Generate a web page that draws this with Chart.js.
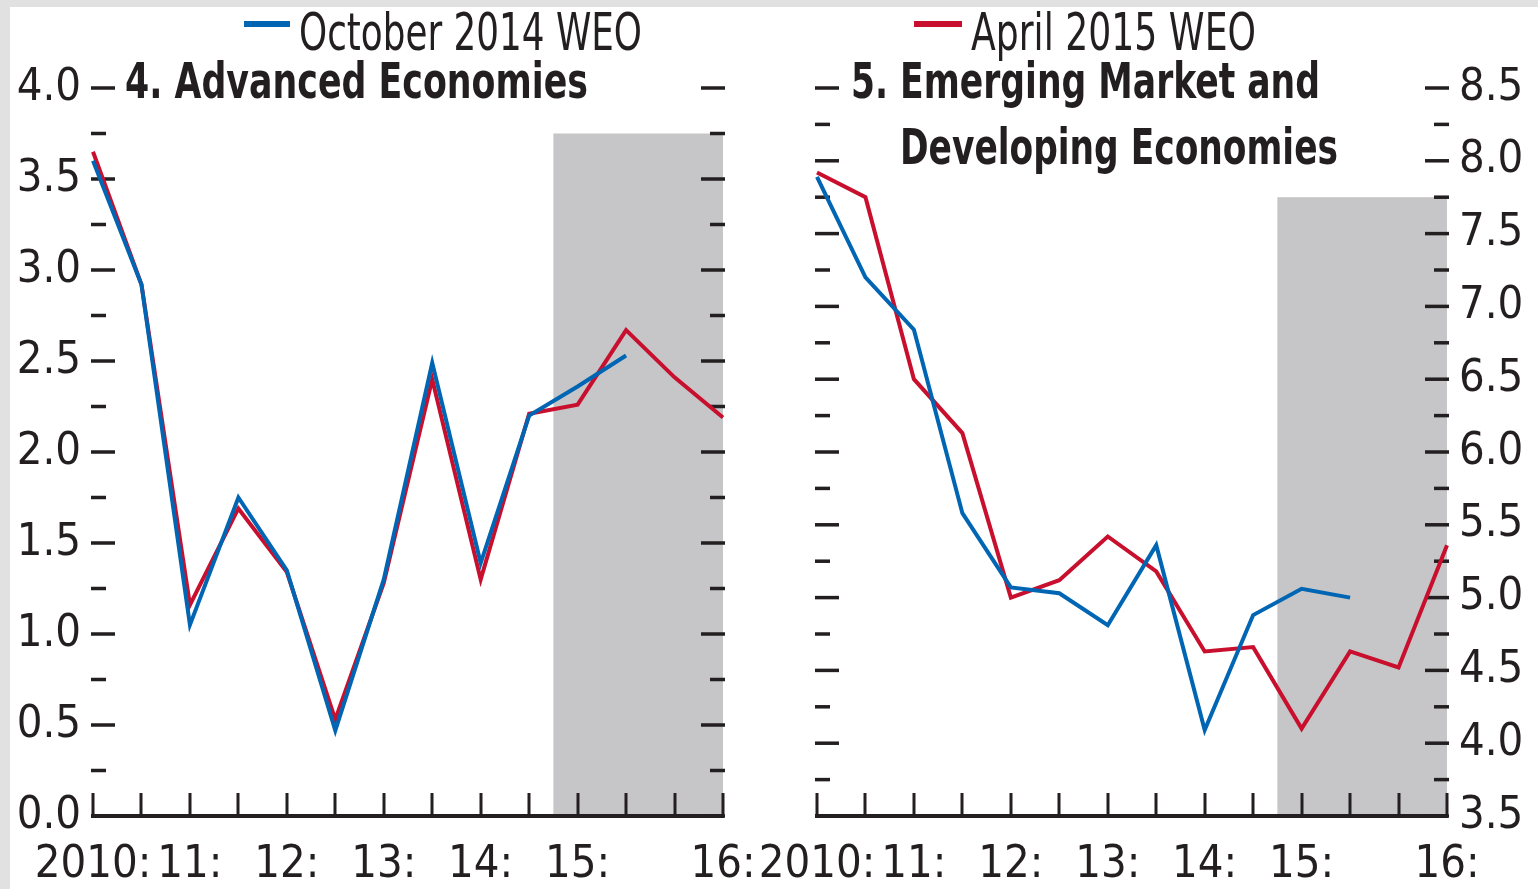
<!DOCTYPE html>
<html>
<head>
<meta charset="utf-8">
<script src="https://cdn.jsdelivr.net/npm/chart.js@4.4.1/dist/chart.umd.min.js"></script>
<style>
  html, body { margin: 0; padding: 0; }
  body { width: 1538px; height: 889px; background: #e1e1e1; position: relative; overflow: hidden; }
  #sheet { position: absolute; left: 10px; top: 7px; right: 0; bottom: 0; background: #fff; }
  canvas { position: absolute; top: 0; }
  #chart-adv { left: 0; }
  #chart-em { left: 760px; }
</style>
</head>
<body>
<div id="sheet"></div>
<canvas id="chart-adv" width="760" height="889"></canvas>
<canvas id="chart-em" width="778" height="889"></canvas>
<script>
// half-years, 2010:H1 .. 2016:H2
const periods = ['2010:H1', '2010:H2', '2011:H1', '2011:H2', '2012:H1', '2012:H2', '2013:H1',
                 '2013:H2', '2014:H1', '2014:H2', '2015:H1', '2015:H2', '2016:H1', '2016:H2'];
const xTickLabels = ['2010:', '', '11:', '', '12:', '', '13:', '', '14:', '', '15:', '', '', '16:'];

// 4. Advanced Economies
const advOct2014 = [3.60, 2.92, 1.05, 1.75, 1.35, 0.47, 1.30, 2.49, 1.39, 2.20, 2.36, 2.53, null, null];
const advApr2015 = [3.65, 2.92, 1.16, 1.69, 1.34, 0.53, 1.28, 2.40, 1.30, 2.21, 2.26, 2.67, 2.41, 2.19];

// 5. Emerging Market and Developing Economies
const emOct2014 = [7.89, 7.20, 6.84, 5.58, 5.07, 5.03, 4.81, 5.36, 4.09, 4.88, 5.06, 5.00, null, null];
const emApr2015 = [7.92, 7.75, 6.50, 6.13, 5.00, 5.12, 5.42, 5.18, 4.63, 4.66, 4.10, 4.63, 4.52, 5.36];

// projection shading starts halfway between 2014:H2 and 2015:H1
const shadeFrom = 9.5;
const advShadeTop = 3.75;
const emShadeTop = 7.75;

const INK = '#231f20';
const BLUE = '#0066b3';
const RED = '#c8102e';
const SHADE = '#c6c6c8';
const FONT = "'DejaVu Sans Condensed', 'Liberation Sans Narrow', 'Liberation Sans', sans-serif";

// draw text squeezed/stretched to fit between left and right
function fitText(ctx, text, left, right, baseline) {
    const w = ctx.measureText(text).width;
    ctx.save();
    ctx.translate(left, baseline);
    ctx.scale((right - left) / w, 1);
    ctx.textAlign = 'left';
    ctx.textBaseline = 'alphabetic';
    ctx.fillText(text, 0, 0);
    ctx.restore();
}

const panelDecor = {
    id: 'panelDecor',
    beforeDraw(chart, args, opts) {
        const { ctx, chartArea: a, scales: { x, y } } = chart;
        ctx.save();
        ctx.fillStyle = SHADE;
        const x0 = x.getPixelForValue(shadeFrom);
        const y0 = y.getPixelForValue(opts.shadeTop);
        ctx.fillRect(x0, y0, a.right - x0, a.bottom - y0);
        ctx.restore();
    },
    beforeDatasetsDraw(chart) {
        const { ctx, chartArea: a, scales: { x, y } } = chart;
        ctx.save();
        ctx.fillStyle = INK;
        // x ticks point up into the plot
        for (let i = 0; i < periods.length; i++) {
            const px = Math.round(x.getPixelForValue(i));
            ctx.fillRect(px - 1.5, a.bottom - 23, 3, 23);
        }
        // y ticks every 0.25 on both sides, longer at the labelled ones
        const n = Math.round((y.max - y.min) / 0.25);
        for (let k = 0; k <= n; k++) {
            const py = y.getPixelForValue(y.min + k * 0.25);
            const len = k % 2 === 0 ? 22 : 13;
            ctx.fillRect(a.left - 2, py - 1.75, len + 2, 3.5);
            ctx.fillRect(a.right - len, py - 1.75, len + 2, 3.5);
        }
        ctx.restore();
    },
    afterDraw(chart, args, opts) {
        const ctx = chart.ctx;
        const ds = chart.data.datasets[opts.legendIndex];
        ctx.save();
        ctx.fillStyle = ds.borderColor;
        ctx.fillRect(opts.swatch[0], 21, opts.swatch[1] - opts.swatch[0], 6);
        ctx.fillStyle = INK;
        ctx.font = 'normal 52px ' + FONT;
        fitText(ctx, ds.label, opts.legendText[0], opts.legendText[1], 50);
        ctx.font = 'bold 49px ' + FONT;
        opts.title.forEach(t => fitText(ctx, t.text, t.left, t.right, t.baseline));
        ctx.restore();
    }
};

function buildPanel(canvas, cfg) {
    const chartStatus = Chart.getChart(canvas);
    if (chartStatus != undefined) {
        chartStatus.destroy();
    }

    return new Chart(canvas, {
        type: 'line',
        data: {
            labels: periods,
            datasets: [
                {
                    label: 'October 2014 WEO',
                    data: cfg.oct,
                    borderColor: BLUE,
                    backgroundColor: BLUE,
                    borderWidth: 4,
                    pointRadius: 0,
                    tension: 0
                },
                {
                    label: 'April 2015 WEO',
                    data: cfg.apr,
                    borderColor: RED,
                    backgroundColor: RED,
                    borderWidth: 4,
                    pointRadius: 0,
                    tension: 0
                }
            ]
        },
        options: {
            responsive: false,
            animation: false,
            layout: {
                padding: { top: 88, left: cfg.padLeft, right: cfg.padRight, bottom: 0 }
            },
            plugins: {
                legend: { display: false },
                tooltip: { enabled: false },
                panelDecor: cfg.decor
            },
            scales: {
                x: {
                    grid: { display: false, drawTicks: false },
                    border: { display: true, color: INK, width: 4 },
                    ticks: {
                        autoSkip: false,
                        maxRotation: 0,
                        minRotation: 0,
                        padding: 22,
                        color: INK,
                        font: { family: FONT, size: 45 },
                        callback: function (value, index) {
                            return xTickLabels[index];
                        }
                    },
                    afterFit: function (scale) {
                        scale.height = 73;
                        scale.paddingLeft = 0;
                        scale.paddingRight = 0;
                    }
                },
                y: {
                    position: cfg.yPosition,
                    min: cfg.yMin,
                    max: cfg.yMax,
                    grid: { display: false, drawTicks: false },
                    border: { display: false },
                    ticks: {
                        stepSize: 0.5,
                        padding: 12,
                        color: INK,
                        font: { family: FONT, size: 45 },
                        callback: function (value) {
                            return value.toFixed(1);
                        }
                    },
                    afterFit: function (scale) {
                        scale.width = cfg.yWidth;
                        scale.paddingTop = 0;
                        scale.paddingBottom = 0;
                    }
                }
            }
        },
        plugins: [panelDecor]
    });
}

buildPanel(document.getElementById('chart-adv'), {
    oct: advOct2014,
    apr: advApr2015,
    yMin: 0, yMax: 4,
    yPosition: 'left',
    yWidth: 93,
    padLeft: 0,
    padRight: 37,
    decor: {
        shadeTop: advShadeTop,
        legendIndex: 0,
        swatch: [244, 290],
        legendText: [299, 642],
        title: [{ text: '4. Advanced Economies', left: 125, right: 588, baseline: 98 }]
    }
});

buildPanel(document.getElementById('chart-em'), {
    oct: emOct2014,
    apr: emApr2015,
    yMin: 3.5, yMax: 8.5,
    yPosition: 'right',
    yWidth: 91,
    padLeft: 57,
    padRight: 0,
    decor: {
        shadeTop: emShadeTop,
        legendIndex: 1,
        swatch: [154, 202],
        legendText: [211, 496],
        title: [
            { text: '5.', left: 91, right: 128, baseline: 98 },
            { text: 'Emerging Market and', left: 140, right: 560, baseline: 98 },
            { text: 'Developing Economies', left: 140, right: 578, baseline: 164 }
        ]
    }
});
</script>
</body>
</html>
